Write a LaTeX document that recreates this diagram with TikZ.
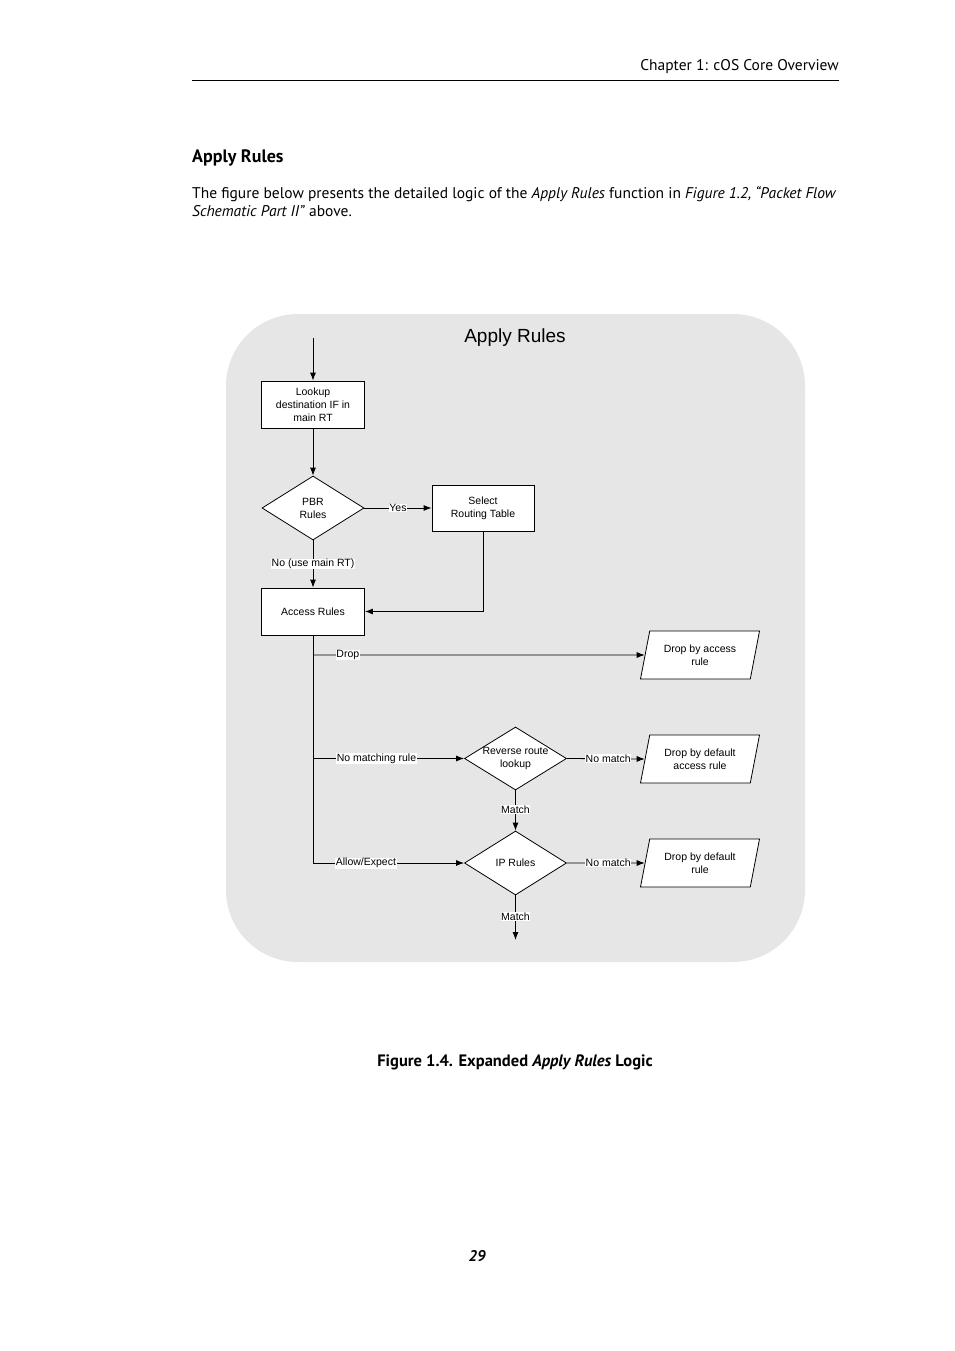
\documentclass[tikz,border=0pt]{standalone}
\usepackage{fontspec}
\setmainfont{Liberation Sans}
\newfontfamily\pagefont{PT Sans}
\usetikzlibrary{shapes.geometric,arrows.meta}
\definecolor{panelgrey}{HTML}{E6E6E6}
\tikzset{
  every node/.style={font=\fontsize{10.5}{13}\selectfont},
  stepbox/.style={draw=black,fill=white,line width=0.8pt,minimum width=103pt,minimum height=47pt,align=center,inner sep=1pt},
  decision/.style={draw=black,fill=white,line width=0.8pt,shape=diamond,minimum width=102pt,minimum height=64pt,align=center,inner sep=0pt},
  outbox/.style={draw=black,fill=white,line width=0.8pt,shape=trapezium,trapezium left angle=66,trapezium right angle=114,trapezium stretches body,minimum width=119pt,minimum height=48pt,align=center,inner sep=0pt},
  conn/.style={line width=0.8pt},
  arr/.style={line width=0.8pt,-{Latex[length=8pt,width=6pt]}},
  lbl/.style={fill=white,inner sep=0.6pt,font=\fontsize{10.5}{12}\selectfont},
  pagetext/.style={font=\pagefont\fontsize{15.5}{18}\selectfont,inner sep=0pt},
}
\begin{document}
\begin{tikzpicture}[x=1pt,y=-1pt]
\useasboundingbox (0,0) rectangle (954,1351);
\fill[white] (0,0) rectangle (954,1351);
% page furniture
\node[pagetext,anchor=base east] (hdr) at (839,70.5) {Chapter 1: cOS Core Overview};
\coordinate (ruleL) at (192,80);
\coordinate (ruleR) at (839,80);
\draw[line width=0.9pt] (ruleL) -- (ruleR);
\node[pagetext,anchor=base west,font=\pagefont\bfseries\fontsize{18}{20}\selectfont] (sec) at (192,162.5) {Apply Rules};
\node[pagetext,anchor=base west] (par1) at (192,198.5) {The figure below presents the detailed logic of the \textit{Apply Rules} function in \textit{Figure 1.2, “Packet Flow}};
\node[pagetext,anchor=base west] (par2) at (192,216.5) {\textit{Schematic Part II”} above.};
\node[pagetext,anchor=base,font=\pagefont\bfseries\fontsize{16.5}{19}\selectfont] (cap) at (515,1066.5) {Figure 1.4. Expanded \textit{Apply Rules} Logic};
\node[pagetext,anchor=base,font=\pagefont\bfseries\itshape\fontsize{15.5}{18}\selectfont] (pnum) at (477,1261.5) {29};
% panel
\fill[panelgrey,rounded corners=72pt] (226,314) rectangle (805,962);
\node[font=\fontsize{19}{21}\selectfont] (title) at (515,338) {Apply Rules};
% nodes
\coordinate (start) at (313,338);
\node[stepbox] (lookup) at (313,404.5) {Lookup\\destination IF in\\main RT};
\node[decision] (pbr) at (313,508) {PBR\\Rules};
\node[stepbox,minimum width=102pt,minimum height=46pt] (select) at (483,508) {Select\\Routing Table};
\node[stepbox] (access) at (313,611.5) {Access Rules};
\node[outbox] (dropacc) at (700,655) {Drop by access\\rule};
\node[decision,minimum height=63pt,label={[align=center,font=\fontsize{10.5}{13}\selectfont]center:Reverse route\\lookup}] (rev) at (515.5,758.5) {};
\node[outbox] (dropdefacc) at (700,759) {Drop by default\\access rule};
\node[decision] (ip) at (515.5,863) {IP Rules};
\node[outbox] (dropdef) at (700,863) {Drop by default\\rule};
\coordinate (selcorner) at (483,611.5);
\coordinate (jdrop) at (313,655);
\coordinate (jnomatch) at (313,758.5);
\coordinate (jallow) at (313,863);
\coordinate (endpt) at (515.5,940);
% connectors
\draw[arr] (start) -- (lookup.north);
\draw[arr] (lookup.south) -- (pbr.north);
\draw[arr] (pbr.east) -- node[lbl]{Yes} (select.west);
\draw[arr] (pbr.south) -- node[lbl,pos=0.5]{No (use main RT)} (access.north);
\draw[arr] (select.south) -- (selcorner) -- (access.east);
\draw[conn] (access.south) -- (jallow);
\draw[arr] (jdrop) -- node[lbl,pos=0.105]{Drop} (dropacc.west);
\draw[arr] (jnomatch) -- node[lbl,pos=0.42]{No matching rule} (rev.west);
\draw[arr] (jallow) -- node[lbl,pos=0.35]{Allow/Expect} (ip.west);
\draw[arr] (rev.east) -- node[lbl,pos=0.53]{No match} (dropdefacc.west);
\draw[arr] (ip.east) -- node[lbl,pos=0.53]{No match} (dropdef.west);
\draw[arr] (rev.south) -- node[lbl,pos=0.47]{Match} (ip.north);
\draw[arr] (ip.south) -- node[lbl,pos=0.47]{Match} (endpt);
\end{tikzpicture}
\end{document}
